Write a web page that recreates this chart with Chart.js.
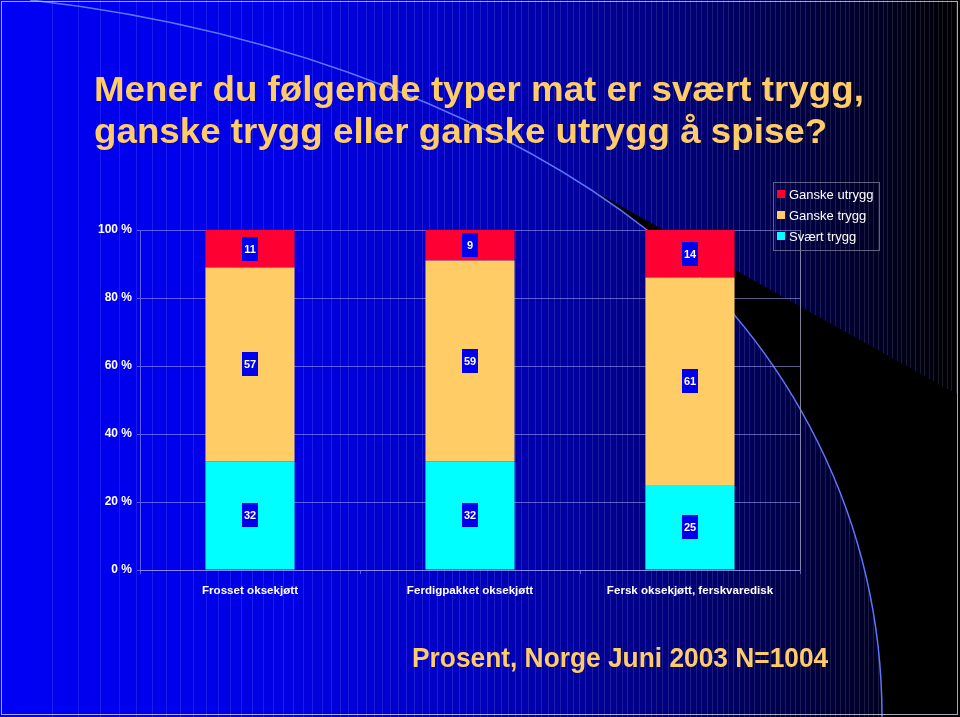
<!DOCTYPE html>
<html>
<head>
<meta charset="utf-8">
<script src="https://cdn.jsdelivr.net/npm/chart.js@4/dist/chart.umd.min.js"></script>
<style>
  body { margin: 0; background: #000; }
  #wrap { position: relative; width: 960px; height: 717px; overflow: hidden; }
  canvas { position: absolute; left: 0; top: 0; }
  .title {
    position: absolute; left: 94px; white-space: nowrap;
    font-family: 'Liberation Sans', Arial, sans-serif; font-weight: bold;
    color: #ffcc66; transform-origin: left top;
  }
  .t1, .t2 { font-size: 35px; line-height: 35px; transform: scaleX(1.05); }
  .t1 { top: 71px; }
  .t2 { top: 113px; }
  .foot { left: 412px; top: 644px; font-size: 28px; line-height: 28px; transform: scaleX(0.94); }
</style>
</head>
<body>
<div id="wrap">
  <canvas id="chart" width="960" height="717"></canvas>
  <div class="title t1">Mener du følgende typer mat er svært trygg,</div>
  <div class="title t2">ganske trygg eller ganske utrygg å spise?</div>
  <div class="title foot">Prosent, Norge Juni 2003 N=1004</div>
</div>
<script>
// data
const categories = ['Frosset oksekjøtt', 'Ferdigpakket oksekjøtt', 'Fersk oksekjøtt, ferskvaredisk'];
const seriesNames = ['Svært trygg', 'Ganske trygg', 'Ganske utrygg'];
const svaertTrygg = [32, 32, 25];
const ganskeTrygg = [57, 59, 61];
const ganskeUtrygg = [11, 9, 14];
const seriesColors = ['#00ffff', '#ffcc66', '#ff0033'];
const yTickValues = [0, 20, 40, 60, 80, 100];

Chart.defaults.font.family = "'Liberation Sans', Arial, sans-serif";

// decorative swoosh of the slide template (two cubic segments)
const swoosh = [
    [[30, 0], [300, 30], [520, 130], [647, 230]],
    [[647, 230], [790, 345], [882, 520], [882, 717]]
];

function bezierPoint(seg, t) {
    const u = 1 - t;
    const a = u * u * u, b = 3 * u * u * t, c = 3 * u * t * t, d = t * t * t;
    return [
        a * seg[0][0] + b * seg[1][0] + c * seg[2][0] + d * seg[3][0],
        a * seg[0][1] + b * seg[1][1] + c * seg[2][1] + d * seg[3][1]
    ];
}

// slide background: blue-to-black gradient, stripes, black wedge and arc
const backgroundPlugin = {
    id: 'slideBackground',
    beforeDraw(chart) {
        const ctx = chart.ctx;
        const w = chart.width, h = chart.height;
        ctx.save();
        const g = ctx.createLinearGradient(0, 0, w, 0);
        g.addColorStop(0, 'rgb(0,0,245)');
        g.addColorStop(0.3, 'rgb(0,0,228)');
        g.addColorStop(0.5, 'rgb(0,0,190)');
        g.addColorStop(0.7, 'rgb(0,0,125)');
        g.addColorStop(0.85, 'rgb(0,0,62)');
        g.addColorStop(0.95, 'rgb(0,0,22)');
        g.addColorStop(1, 'rgb(0,0,0)');
        ctx.fillStyle = g;
        ctx.fillRect(0, 0, w, h);

        // thin vertical stripes, denser to the right
        ctx.strokeStyle = 'rgba(255,255,255,0.11)';
        ctx.lineWidth = 1;
        const n = 130;
        for (let k = 1; k < n; k++) {
            const x = Math.round(w * Math.pow(k / n, 0.6)) + 0.5;
            ctx.beginPath();
            ctx.moveTo(x, 0);
            ctx.lineTo(x, h);
            ctx.stroke();
        }

        // black wedge: straight top edge, swoosh on the left
        const start = bezierPoint(swoosh[0], 0.85);
        ctx.fillStyle = '#000';
        ctx.beginPath();
        ctx.moveTo(start[0], start[1]);
        ctx.lineTo(w, start[1] + (w - start[0]) * 0.56);
        ctx.lineTo(w, h);
        for (let t = 1; t >= 0; t -= 0.02) {
            const p = bezierPoint(swoosh[1], t);
            ctx.lineTo(p[0], p[1]);
        }
        for (let t = 1; t >= 0.85; t -= 0.01) {
            const p = bezierPoint(swoosh[0], t);
            ctx.lineTo(p[0], p[1]);
        }
        ctx.closePath();
        ctx.fill();

        ctx.strokeStyle = '#5a78ff';
        ctx.lineWidth = 1.5;
        ctx.beginPath();
        swoosh.forEach(seg => {
            ctx.moveTo(seg[0][0], seg[0][1]);
            ctx.bezierCurveTo(seg[1][0], seg[1][1], seg[2][0], seg[2][1], seg[3][0], seg[3][1]);
        });
        ctx.stroke();

        ctx.strokeStyle = 'rgba(210,210,230,0.8)';
        ctx.lineWidth = 1;
        ctx.strokeRect(1.5, 1.5, w - 4, h - 4);
        ctx.restore();
    }
};

// value boxes, plot right border and boxed legend
const labelsPlugin = {
    id: 'valueBoxes',
    afterDatasetsDraw(chart) {
        const ctx = chart.ctx;
        const area = chart.chartArea;
        ctx.save();
        ctx.strokeStyle = 'rgba(150,150,175,0.85)';
        ctx.lineWidth = 1;
        ctx.beginPath();
        ctx.moveTo(area.right + 0.5, area.top);
        ctx.lineTo(area.right + 0.5, area.bottom);
        ctx.stroke();

        ctx.font = 'bold 11px ' + Chart.defaults.font.family;
        ctx.textAlign = 'center';
        ctx.textBaseline = 'middle';
        chart.data.datasets.forEach((ds, i) => {
            chart.getDatasetMeta(i).data.forEach((bar, j) => {
                const my = (bar.y + bar.base) / 2;
                ctx.fillStyle = '#0000ee';
                ctx.fillRect(Math.round(bar.x) - 8, Math.round(my) - 12, 16, 24);
                ctx.fillStyle = '#ffffff';
                ctx.fillText(ds.data[j], bar.x, my + 1);
            });
        });
        ctx.restore();
    },
    afterDraw(chart) {
        const ctx = chart.ctx;
        const left = 773, top = 182, rowH = 21;
        ctx.save();
        ctx.strokeStyle = 'rgba(120,120,150,0.8)';
        ctx.lineWidth = 1;
        ctx.strokeRect(left + 0.5, top + 0.5, 106, 68);
        ctx.font = '13px ' + Chart.defaults.font.family;
        ctx.textBaseline = 'middle';
        ctx.textAlign = 'left';
        const items = chart.data.datasets.slice().reverse();
        items.forEach((ds, i) => {
            const y = top + 12 + i * rowH;
            ctx.fillStyle = ds.backgroundColor;
            ctx.fillRect(left + 4, y - 4, 8, 8);
            ctx.fillStyle = '#ffffff';
            ctx.fillText(ds.label, left + 16, y + 1);
        });
        ctx.restore();
    }
};

const gridColor = 'rgba(170,170,255,0.55)';

new Chart(document.getElementById('chart'), {
    type: 'bar',
    data: {
        labels: categories,
        datasets: [
            { label: seriesNames[0], data: svaertTrygg, backgroundColor: seriesColors[0] },
            { label: seriesNames[1], data: ganskeTrygg, backgroundColor: seriesColors[1] },
            { label: seriesNames[2], data: ganskeUtrygg, backgroundColor: seriesColors[2] }
        ]
    },
    options: {
        responsive: false,
        animation: false,
        layout: { padding: { left: 80, right: 160, top: 230, bottom: 107 } },
        datasets: { bar: { barPercentage: 0.405, categoryPercentage: 1 } },
        plugins: {
            legend: { display: false },
            title: { display: false },
            tooltip: { enabled: false }
        },
        scales: {
            x: {
                stacked: true,
                afterFit: s => { s.height = 40; },
                grid: { drawOnChartArea: false, color: gridColor, tickLength: 4 },
                border: { color: gridColor },
                ticks: { color: '#ffffff', padding: 10, maxRotation: 0, font: { size: 11.6, weight: 'bold' } }
            },
            y: {
                stacked: true,
                min: 0,
                max: 100,
                afterFit: s => { s.width = 60; },
                afterBuildTicks: s => { s.ticks = yTickValues.map(v => ({ value: v })); },
                grid: { color: gridColor, tickLength: 3 },
                border: { color: gridColor },
                ticks: {
                    color: '#ffffff',
                    padding: 5,
                    font: { size: 12, weight: 'bold' },
                    callback: v => v + ' %'
                }
            }
        }
    },
    plugins: [backgroundPlugin, labelsPlugin]
});
</script>
</body>
</html>
